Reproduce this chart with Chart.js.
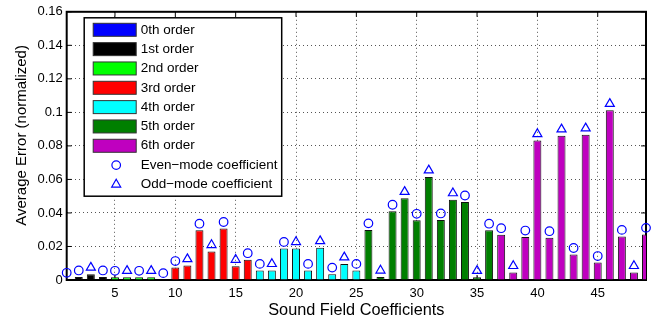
<!DOCTYPE html>
<html><head><meta charset="utf-8">
<script src="https://cdn.jsdelivr.net/npm/chart.js@4.4.1/dist/chart.umd.min.js"></script>
<style>html,body{margin:0;padding:0;background:#fff}#wrap{width:656px;height:324px;position:relative}</style>
</head><body><div id="wrap"><canvas id="c"></canvas></div>
<script>
// ---- data ----
const coefficients = [1,2,3,4,5,6,7,8,9,10,11,12,13,14,15,16,17,18,19,20,21,22,23,24,25,26,27,28,29,30,31,32,33,34,35,36,37,38,39,40,41,42,43,44,45,46,47,48,49];
const errors = [0.0004,0.0018,0.0035,0.0018,0.0016,0.0016,0.0016,0.0016,0.0002,
  0.0074,0.0086,0.0297,0.0170,0.0307,0.0082,0.0121,
  0.0057,0.0057,0.0188,0.0188,0.0057,0.0193,0.0035,0.0096,0.0057,
  0.0299,0.0018,0.0410,0.0487,0.0356,0.0615,0.0358,0.0479,0.0465,0.0016,0.0297,
  0.0270,0.0045,0.0256,0.0832,0.0252,0.0860,0.0152,0.0866,0.0104,0.1012,0.0260,0.0045,0.0272];
const orderOf = [0,1,1,1,2,2,2,2,2,3,3,3,3,3,3,3,4,4,4,4,4,4,4,4,4,5,5,5,5,5,5,5,5,5,5,5,6,6,6,6,6,6,6,6,6,6,6,6,6];
const orderLabels = ['0th order','1st order','2nd order','3rd order','4th order','5th order','6th order'];
const orderColors = ['#0000FF','#000000','#00FF00','#FF0000','#00FFFF','#007F00','#BF00BF'];
const modeLabels = ['Even\u2212mode coefficient','Odd\u2212mode coefficient'];
const markerOffset = 0.0039;
const xTicks = [5,10,15,20,25,30,35,40,45];
const yTicks = [0,0.02,0.04,0.06,0.08,0.1,0.12,0.14,0.16];
const yTickLabels = ['0','0.02','0.04','0.06','0.08','0.1','0.12','0.14','0.16'];
const xTitle = 'Sound Field Coefficients';
const yTitle = 'Average Error (normalized)';

// position of each coefficient inside its order: even -> even-mode, odd -> odd-mode
const modeOf = coefficients.map((c,i) => {
  let k = 0; for (let j = 0; j < i; j++) if (orderOf[j] === orderOf[i]) k++;
  return k % 2;
});

const FONT = "'Liberation Sans', Arial, Helvetica, sans-serif";

const barSets = orderLabels.map((lab, o) => ({
  type: 'bar', label: lab,
  data: coefficients.filter((c,i) => orderOf[i] === o).map(c => ({x: c, y: errors[c-1]})),
  backgroundColor: orderColors[o], borderColor: '#111', borderWidth: 1,
  grouped: false, barPercentage: 0.66, categoryPercentage: 1, order: 2
}));
const markerSets = modeLabels.map((lab, m) => ({
  type: 'line', label: lab, showLine: false,
  data: coefficients.filter((c,i) => modeOf[i] === m).map(c => ({x: c, y: errors[c-1] + markerOffset})),
  pointStyle: m === 0 ? 'circle' : 'triangle',
  pointRadius: m === 0 ? 4.3 : 5.2,
  pointBorderWidth: 1.2,
  borderColor: '#0000FF', backgroundColor: 'rgba(0,0,0,0)',
  pointBackgroundColor: 'rgba(0,0,0,0)', pointBorderColor: '#0000FF',
  clip: false, order: 1
}));

const framePlugin = {
  id: 'frame',
  beforeDatasetsDraw(chart) {
    const {ctx, chartArea: {left, right, top, bottom}, scales: {x, y}} = chart;
    ctx.save();
    ctx.strokeStyle = '#000'; ctx.lineWidth = 1;
    ctx.beginPath();
    xTicks.forEach(v => { const p = x.getPixelForValue(v);
      ctx.moveTo(p, bottom); ctx.lineTo(p, bottom - 5);
      ctx.moveTo(p, top); ctx.lineTo(p, top + 5); });
    yTicks.forEach(v => { const p = y.getPixelForValue(v);
      ctx.moveTo(left, p); ctx.lineTo(left + 5, p);
      ctx.moveTo(right, p); ctx.lineTo(right - 5, p); });
    ctx.stroke();
    ctx.lineWidth = 2;
    ctx.strokeRect(left, top, right - left, bottom - top);
    // y-axis title (figure-centred like the original, slightly above the axis centre)
    ctx.translate(21.5, (top + bottom) / 2 - 10.5);
    ctx.rotate(-Math.PI / 2);
    ctx.fillStyle = '#000'; ctx.font = '15px ' + FONT;
    ctx.textAlign = 'center'; ctx.textBaseline = 'middle';
    ctx.fillText(yTitle, 0, 0);
    ctx.restore();
  }
};

const legendPlugin = {
  id: 'boxLegend',
  afterDraw(chart) {
    const {ctx, chartArea} = chart;
    const L = chartArea.left + 17.5, T = chartArea.top + 6, W = 197.5, H = 178.4;
    ctx.save();
    ctx.fillStyle = '#fff'; ctx.fillRect(L, T, W, H);
    ctx.strokeStyle = '#000'; ctx.lineWidth = 1.5; ctx.strokeRect(L, T, W, H);
    ctx.font = '13.5px ' + FONT; ctx.textBaseline = 'middle'; ctx.textAlign = 'left';
    chart.data.datasets.forEach((ds, i) => {
      const cy = T + 12 + i * 19.33;
      if (ds.type === 'bar') {
        ctx.fillStyle = ds.backgroundColor; ctx.fillRect(L + 9, cy - 6.5, 43, 13);
        ctx.strokeStyle = '#333'; ctx.lineWidth = 1; ctx.strokeRect(L + 9, cy - 6.5, 43, 13);
      } else {
        ctx.strokeStyle = ds.pointBorderColor; ctx.fillStyle = 'rgba(0,0,0,0)';
        ctx.lineWidth = ds.pointBorderWidth;
        Chart.helpers.drawPoint(ctx, {pointStyle: ds.pointStyle, radius: ds.pointRadius, borderWidth: ds.pointBorderWidth, rotation: 0}, L + 32, cy);
      }
      ctx.fillStyle = '#000';
      ctx.fillText(ds.label, L + 56.5, cy);
    });
    ctx.restore();
  }
};

new Chart(document.getElementById('c'), {
  type: 'bar',
  data: { datasets: [...barSets, ...markerSets] },
  options: {
    responsive: true, maintainAspectRatio: false, animation: false, events: [],
    layout: { padding: { left: 0, right: 10, top: 7, bottom: 0 } },
    plugins: { legend: { display: false }, tooltip: { enabled: false } },
    scales: {
      x: {
        type: 'linear', min: 1, max: 49, offset: false,
        afterBuildTicks: s => { s.ticks = xTicks.map(v => ({value: v})); },
        afterFit: s => { s.height = 44; },
        ticks: { callback: (v, i) => String(xTicks[i]), color: '#000', font: {family: FONT, size: 13}, padding: 6, maxRotation: 0, autoSkip: false },
        grid: { color: '#555', lineWidth: 1, drawTicks: false, offset: false },
        border: { display: false, dash: [1, 3] },
        title: { display: true, text: xTitle, color: '#000', font: {family: FONT, size: 16.3}, padding: {top: 0, bottom: 4} }
      },
      y: {
        min: 0, max: 0.16,
        afterBuildTicks: s => { s.ticks = yTicks.map(v => ({value: v})); },
        afterFit: s => { s.width = 66.7; },
        ticks: { callback: (v, i) => yTickLabels[i], color: '#000', font: {family: FONT, size: 13}, padding: 4 },
        grid: { color: '#555', lineWidth: 1, drawTicks: false },
        border: { display: false, dash: [1, 3] },
        title: { display: false, text: yTitle }
      }
    }
  },
  plugins: [framePlugin, legendPlugin]
});
</script></body></html>
